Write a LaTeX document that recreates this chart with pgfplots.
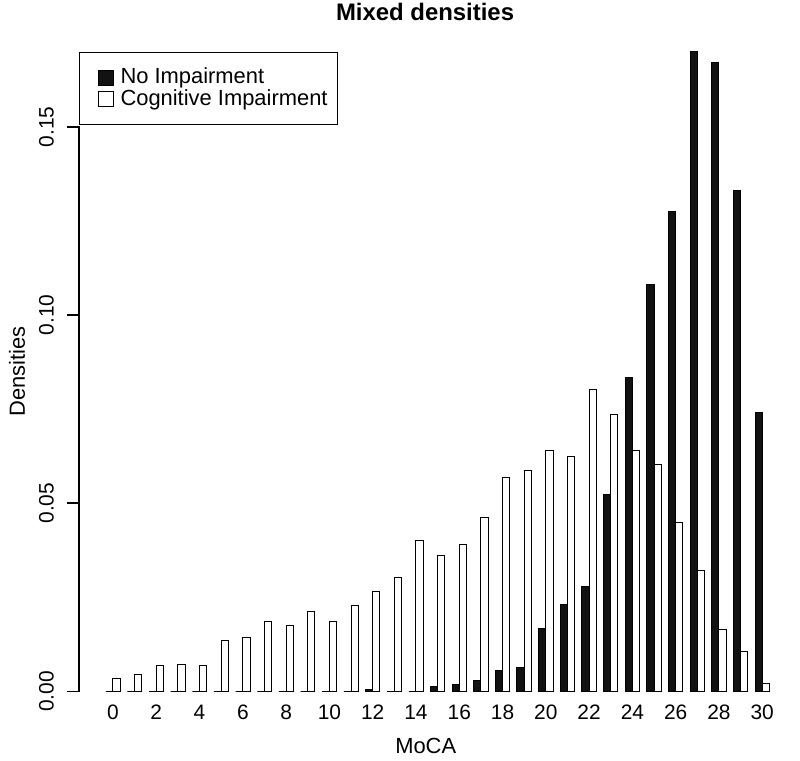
\documentclass[border=0pt]{standalone}
\usepackage{fontspec}
\setmainfont{Liberation Sans}
\usepackage{pgfplots}
\usepackage{pgfplotstable}
\pgfplotsset{compat=1.18}

\pgfplotstableread{
k nimp cimp
0 0 0.0033
1 0 0.0046
2 0 0.0068
3 0 0.0072
4 0 0.0068
5 0 0.0136
6 0 0.0144
7 0 0.0185
8 0 0.0174
9 0 0.0212
10 0 0.0185
11 0 0.0227
12 0.0004 0.0266
13 0 0.0302
14 0 0.0401
15 0.0013 0.0360
16 0.0018 0.0390
17 0.0030 0.0463
18 0.0055 0.0568
19 0.0064 0.0587
20 0.0168 0.0640
21 0.0232 0.0624
22 0.0278 0.0802
23 0.0522 0.0735
24 0.0833 0.0640
25 0.1082 0.0603
26 0.1276 0.0450
27 0.1700 0.0322
28 0.1671 0.0164
29 0.1330 0.0106
30 0.0740 0.0022
}\mocadata

\begin{document}
\begin{tikzpicture}
\path (-39.5bp,-22bp) rectangle (360.5bp,358.5bp);
\begin{axis}[
  at={(0,0)}, anchor=south west,
  scale only axis, width=358.5bp, height=345.5bp,
  xmin=-1.57, xmax=31.56, ymin=-0.0068, ymax=0.1768,
  clip=false,
  axis x line*=bottom, axis y line*=left,
  x axis line style={draw=none}, y axis line style={draw=none},
  xtick={0,2,...,30},
  xtick style={draw=none},
  ytick={0,0.05,0.10,0.15},
  yticklabels={0.00,0.05,0.10,0.15},
  ytick style={draw=none},
  tick align=outside,
  major tick length=6.2bp,
  /pgf/number format/assume math mode=true,
  ticklabel style={font=\fontsize{10.5}{10.5}\selectfont, inner sep=0pt},
  xticklabel style={anchor=base, yshift=5.1bp},
  yticklabel style={rotate=90, anchor=base},
  yticklabel shift=6.5bp,
  legend style={at={(axis cs:-1.57,0.170)}, anchor=north west,
    draw=black, line width=0.5bp, fill=white,
    font=\fontsize{11}{11}\selectfont,
    inner xsep=5bp, inner ysep=8bp, row sep=1.3bp, column sep=3.5bp,
    nodes={inner sep=0pt}},
  legend cell align=left,
  legend image code/.code={\path (0bp,0bp); \draw[#1, line width=0.5bp] (4bp,-3.75bp) rectangle (11.5bp,3.75bp);},
]
\addplot[ybar, bar width=0.3333, bar shift=-0.16667, fill=black!93, draw=black, line width=0.5bp]
  table[x=k, y=nimp] {\mocadata};
\addlegendentry{No Impairment}
\addplot[ybar, bar width=0.3333, bar shift=0.16667, fill=white, draw=black, line width=0.5bp]
  table[x=k, y=cimp] {\mocadata};
\addlegendentry{Cognitive Impairment}
\draw[black, line width=0.75bp] ([xshift=-6.2bp]axis cs:-1.57,0) -- (axis cs:-1.57,0) -- (axis cs:-1.57,0.15) -- ([xshift=-6.2bp]axis cs:-1.57,0.15);
\draw[black, line width=0.75bp] (axis cs:-1.57,0.05) -- ([xshift=-6.2bp]axis cs:-1.57,0.05);
\draw[black, line width=0.75bp] (axis cs:-1.57,0.10) -- ([xshift=-6.2bp]axis cs:-1.57,0.10);
\node[font=\bfseries\fontsize{12}{12}\selectfont, anchor=base, inner sep=0pt]
  at ([yshift=2.5bp]axis cs:14.42,0.1768) {Mixed densities};
\node[font=\fontsize{11}{11}\selectfont, anchor=base, inner sep=0pt]
  at ([yshift=-18bp]axis cs:14.45,-0.0068) {MoCA};
\node[font=\fontsize{11}{11}\selectfont, anchor=base, rotate=90, inner sep=0pt]
  at ([xshift=-27bp]rel axis cs:0,0.5) {Densities};
\end{axis}
\end{tikzpicture}
\end{document}
